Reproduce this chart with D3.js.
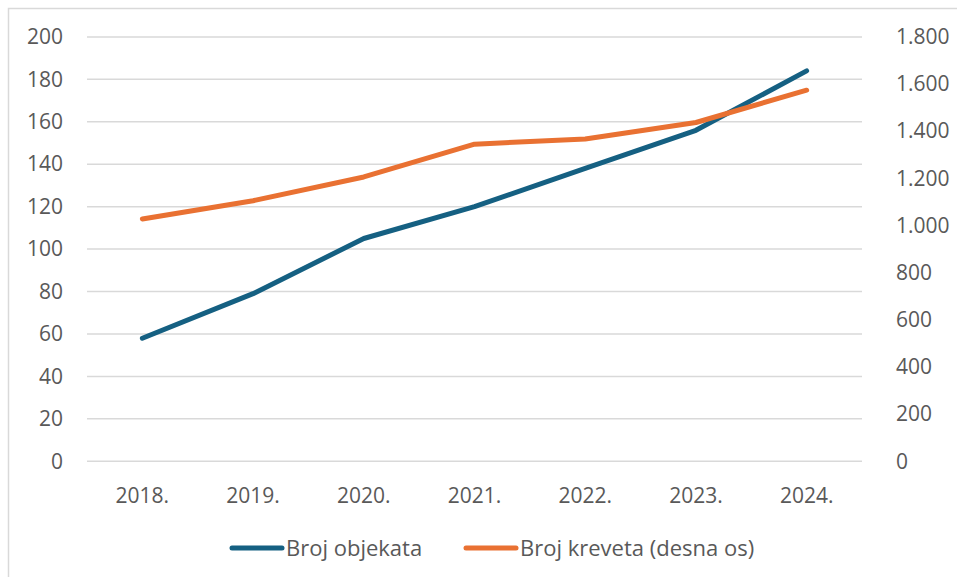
<!DOCTYPE html>
<html>
<head>
<meta charset="utf-8">
<script src="https://cdn.jsdelivr.net/npm/d3@7"></script>
<style>
  html, body { margin: 0; padding: 0; background: #fff; }
  svg { display: block; }
  text { font-family: "Open Sans", "Liberation Sans", Arial, sans-serif; }
</style>
</head>
<body>
<svg id="chart" width="957" height="577"></svg>
<script>
const years = ["2018.", "2019.", "2020.", "2021.", "2022.", "2023.", "2024."];
const objekti = [58, 79, 105, 120, 138, 156, 184];
const kreveti = [1028, 1105, 1206, 1345, 1367, 1437, 1574];
const leftTicks = [0, 20, 40, 60, 80, 100, 120, 140, 160, 180, 200];
const rightTicks = [0, 200, 400, 600, 800, 1000, 1200, 1400, 1600, 1800];
const seriesNames = ["Broj objekata", "Broj kreveta (desna os)"];
const colors = ["#156082", "#E97132"];

const svg = d3.select("#chart");
const plot = { left: 87, right: 862, top: 36.9, bottom: 461.3 };
const fs = 21;
const legendFs = 22;
const textColor = "#595959";

// outer frame
svg.append("rect").attr("x", 8.5).attr("y", 8.5).attr("width", 1200).attr("height", 1200)
  .attr("fill", "none").attr("stroke", "#d9d9d9").attr("stroke-width", 1.5);

const x = d3.scaleBand().domain(years).range([plot.left, plot.right]);
const yL = d3.scaleLinear().domain([0, 200]).range([plot.bottom, plot.top]);
const yR = d3.scaleLinear().domain([0, 1800]).range([plot.bottom, plot.top]);

// gridlines
svg.append("g").selectAll("line").data(leftTicks).join("line")
  .attr("x1", plot.left).attr("x2", plot.right)
  .attr("y1", d => yL(d)).attr("y2", d => yL(d))
  .attr("stroke", "#d9d9d9").attr("stroke-width", 1.5);

// left axis
const axL = d3.axisLeft(yL).tickValues(leftTicks).tickSize(0).tickPadding(0).tickFormat(d3.format("d"));
const gL = svg.append("g").attr("transform", "translate(63,0)").call(axL);
gL.select(".domain").remove();
gL.selectAll("text").attr("fill", textColor).style("font-size", fs + "px");

// right axis
const fmtR = d => d3.format(",")(d).replace(/,/g, ".");
const axR = d3.axisRight(yR).tickValues(rightTicks).tickSize(0).tickPadding(0).tickFormat(fmtR);
const gR = svg.append("g").attr("transform", "translate(896,0)").call(axR);
gR.select(".domain").remove();
gR.selectAll("text").attr("fill", textColor).style("font-size", fs + "px");

// x axis
const axX = d3.axisBottom(x).tickSize(0).tickPadding(0);
const gX = svg.append("g").attr("transform", "translate(0,496)").call(axX);
gX.select(".domain").remove();
gX.selectAll("text").attr("y", 0).attr("dy", "0.35em").attr("fill", textColor).style("font-size", fs + "px");

const cx = d => x(d) + x.bandwidth() / 2;
const lineL = d3.line().x((d, i) => cx(years[i])).y(d => yL(d));
const lineR = d3.line().x((d, i) => cx(years[i])).y(d => yR(d));

svg.append("path").datum(objekti).attr("d", lineL)
  .attr("fill", "none").attr("stroke", colors[0]).attr("stroke-width", 5)
  .attr("stroke-linecap", "round").attr("stroke-linejoin", "round");
svg.append("path").datum(kreveti).attr("d", lineR)
  .attr("fill", "none").attr("stroke", colors[1]).attr("stroke-width", 5)
  .attr("stroke-linecap", "round").attr("stroke-linejoin", "round");

// legend
const legend = [
  { name: seriesNames[0], color: colors[0], x: 232 },
  { name: seriesNames[1], color: colors[1], x: 466 }
];
const lg = svg.append("g");
legend.forEach(l => {
  lg.append("line").attr("x1", l.x).attr("x2", l.x + 50).attr("y1", 548).attr("y2", 548)
    .attr("stroke", l.color).attr("stroke-width", 5).attr("stroke-linecap", "round");
  lg.append("text").attr("x", l.x + 54).attr("y", 548).attr("dy", "0.35em")
    .attr("fill", textColor).style("font-size", legendFs + "px").text(l.name);
});
</script>
</body>
</html>
